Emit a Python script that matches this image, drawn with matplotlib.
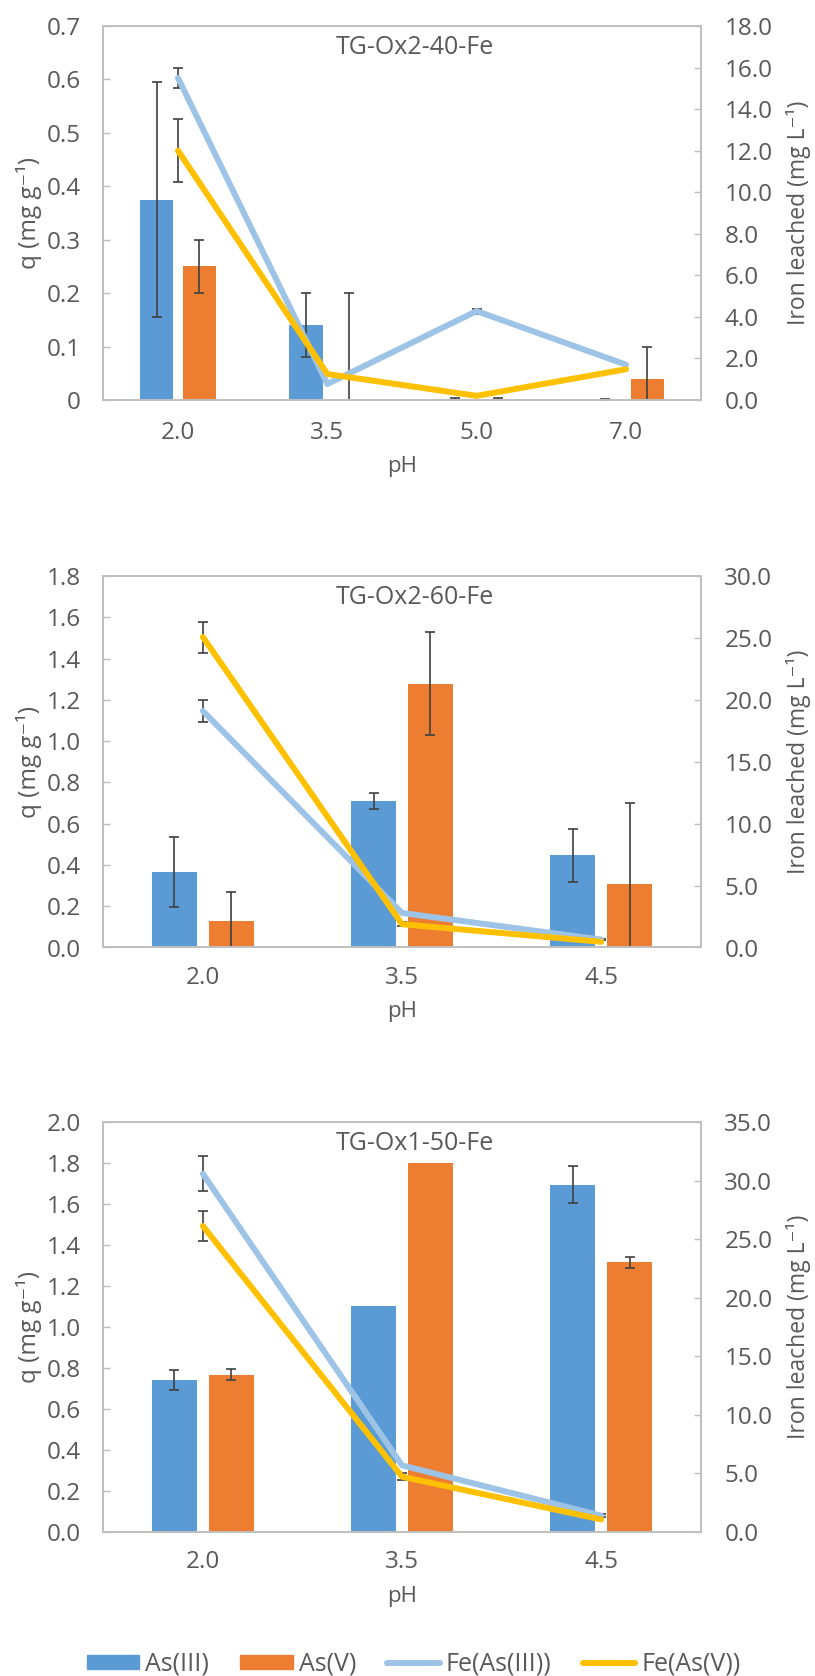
import matplotlib.pyplot as plt
import numpy as np
from matplotlib.patches import Patch
from matplotlib.lines import Line2D

plt.rcParams['font.family'] = ['Open Sans', 'DejaVu Sans']

nan = np.nan  # no error bar shown

# ---- data ----
# TG-Ox2-40-Fe
ph_a = ["2.0", "3.5", "5.0", "7.0"]
as3_a = [0.375, 0.141, 0.0, 0.0]
as3_err_a = [0.22, 0.06, 0.003, 0.002]
as5_a = [0.25, 0.0, 0.0, 0.04]
as5_err_a = [0.05, 0.2, 0.003, 0.06]
fe3_a = [15.5, 0.77, 4.28, 1.7]
fe3_err_a = [0.5, nan, 0.12, nan]
fe5_a = [12.0, 1.25, 0.2, 1.48]
fe5_err_a = [1.5, nan, nan, nan]

# TG-Ox2-60-Fe
ph_b = ["2.0", "3.5", "4.5"]
as3_b = [0.367, 0.71, 0.446]
as3_err_b = [0.17, 0.04, 0.13]
as5_b = [0.127, 1.279, 0.309]
as5_err_b = [0.14, 0.25, 0.39]
fe3_b = [19.1, 2.79, 0.64]
fe3_err_b = [0.9, nan, 0.05]
fe5_b = [25.07, 1.88, 0.46]
fe5_err_b = [1.25, 0.15, nan]

# TG-Ox1-50-Fe
ph_c = ["2.0", "3.5", "4.5"]
as3_c = [0.742, 1.102, 1.695]
as3_err_c = [0.05, nan, 0.088]
as5_c = [0.768, 1.80, 1.316]
as5_err_c = [0.027, nan, 0.026]
fe3_c = [30.58, 5.69, 1.4]
fe3_err_c = [1.5, nan, 0.1]
fe5_c = [26.12, 4.72, 1.07]
fe5_err_c = [1.3, 0.3, nan]

C_AS3 = '#5B9BD5'
C_AS5 = '#ED7D31'
C_FE3 = '#9DC3E6'
C_FE5 = '#FFC000'
C_ERR = '#404040'
C_TXT = '#595959'
C_AX = '#BFBFBF'

W, H = 815, 1676
fig = plt.figure(figsize=(W / 100, H / 100), dpi=100)


def panel(rect_px, title, cats, as3, as3_err, as5, as5_err, fe3, fe3_err, fe5, fe5_err,
          lmax, lstep, lfmt, rmax, rstep, xpad):
    x0, y0, x1, y1 = rect_px
    ax = fig.add_axes([x0 / W, 1 - y1 / H, (x1 - x0) / W, (y1 - y0) / H])
    x = np.arange(len(cats))
    bw = 0.223
    off = 0.143
    ekw = dict(ecolor=C_ERR, elinewidth=1.2, capsize=3.8, capthick=1.2)
    ax.bar(x - off, as3, bw, color=C_AS3, yerr=as3_err, error_kw=ekw, zorder=2)
    ax.bar(x + off, as5, bw, color=C_AS5, yerr=as5_err, error_kw=ekw, zorder=2)
    ax.set_xlim(-0.5, len(cats) - 0.5)
    ax.set_ylim(0, lmax)
    lt = np.arange(0, lmax + lstep / 2, lstep)
    ax.set_yticks(lt)
    ax.set_yticklabels([lfmt(v) for v in lt])
    ax.set_xticks(x)
    ax.set_xticklabels(cats)
    ax.tick_params(axis='y', direction='in', length=5, width=1, color=C_AX,
                   labelsize=17.5, labelcolor=C_TXT, pad=16)
    ax.tick_params(axis='x', length=0, labelsize=17.5, labelcolor=C_TXT, pad=xpad)
    ax.set_xlabel('pH', fontsize=16, color=C_TXT, labelpad=8)
    ax.set_ylabel('q (mg g⁻¹)', fontsize=17.5, color=C_TXT)
    ax.yaxis.set_label_coords((42 - x0) / (x1 - x0), 0.5)

    ax2 = ax.twinx()
    ax2.errorbar(x, fe3, yerr=fe3_err, color=C_FE3, lw=4.3, ecolor=C_ERR,
                 elinewidth=1.2, capsize=3.8, capthick=1.2,
                 solid_capstyle='round', solid_joinstyle='round', zorder=3)
    ax2.errorbar(x, fe5, yerr=fe5_err, color=C_FE5, lw=4.3, ecolor=C_ERR,
                 elinewidth=1.2, capsize=3.8, capthick=1.2,
                 solid_capstyle='round', solid_joinstyle='round', zorder=3)
    ax2.set_ylim(0, rmax)
    rt = np.arange(0, rmax + rstep / 2, rstep)
    ax2.set_yticks(rt)
    ax2.set_yticklabels(['%.1f' % v for v in rt])
    ax2.tick_params(axis='y', direction='in', length=5, width=1, color=C_AX,
                    labelsize=17.5, labelcolor=C_TXT, pad=17)
    ax2.set_ylabel('Iron leached (mg L⁻¹)', fontsize=16.5, color=C_TXT)
    ax2.yaxis.set_label_coords((786 - x0) / (x1 - x0), 0.5)

    for a in (ax, ax2):
        for s in a.spines.values():
            s.set_color(C_AX)
            s.set_linewidth(1.2)
    ax.text(0.522, 1 - 21 / (y1 - y0), title, transform=ax.transAxes,
            ha='center', va='center', fontsize=18, color=C_TXT)
    return ax


fmt_g = lambda v: '0' if v == 0 else ('%.1f' % v)
fmt_f = lambda v: '%.1f' % v

panel((103.3, 26, 700.7, 400), 'TG-Ox2-40-Fe', ph_a, as3_a, as3_err_a, as5_a, as5_err_a,
      fe3_a, fe3_err_a, fe5_a, fe5_err_a, 0.7, 0.1, fmt_g, 18, 2, 15)
panel((103.3, 576, 700.7, 947.5), 'TG-Ox2-60-Fe', ph_b, as3_b, as3_err_b, as5_b, as5_err_b,
      fe3_b, fe3_err_b, fe5_b, fe5_err_b, 1.8, 0.2, fmt_f, 30, 5, 13.3)
panel((103.3, 1122, 700.7, 1532), 'TG-Ox1-50-Fe', ph_c, as3_c, as3_err_c, as5_c, as5_err_c,
      fe3_c, fe3_err_c, fe5_c, fe5_err_c, 2.0, 0.2, fmt_f, 35, 5, 13.3)

handles = [Patch(color=C_AS3), Patch(color=C_AS5),
           Line2D([], [], color=C_FE3, lw=4.3, solid_capstyle='round'),
           Line2D([], [], color=C_FE5, lw=4.3, solid_capstyle='round')]
labels = ['As(III)', 'As(V)', 'Fe(As(III))', 'Fe(As(V))']
leg = fig.legend(handles, labels, loc='center', bbox_to_anchor=(413.7 / W, 1 - 1664 / H),
                 ncol=4, frameon=False, fontsize=18, handlelength=2.1, handleheight=0.5,
                 handletextpad=0.24, columnspacing=1.25, borderpad=0, borderaxespad=0)
for t in leg.get_texts():
    t.set_color(C_TXT)

fig.savefig('out.png', dpi=100)
